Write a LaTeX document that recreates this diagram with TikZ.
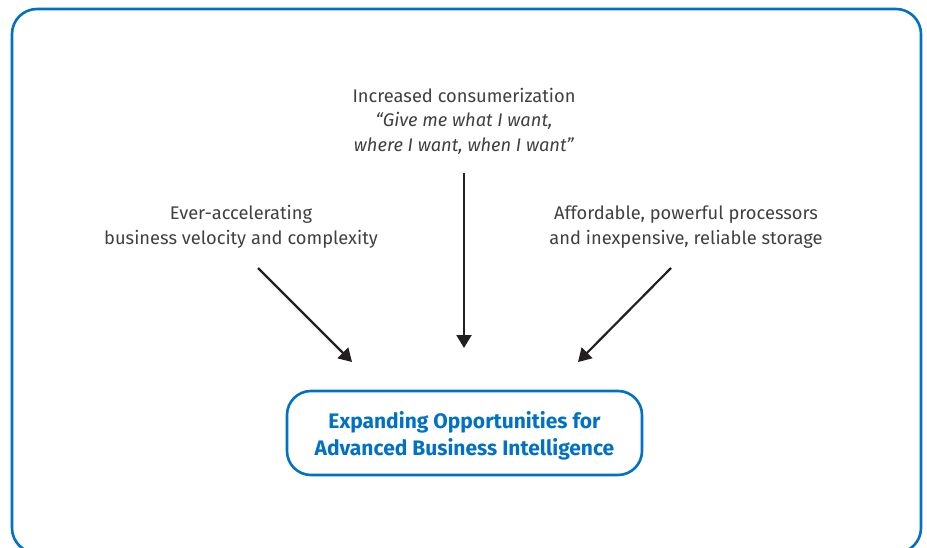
\documentclass[tikz,border=0pt]{standalone}
\usepackage{fontspec}
\setmainfont{Fira Sans}
\usetikzlibrary{arrows.meta}
\definecolor{iblue}{HTML}{0071C5}
\definecolor{igray}{HTML}{404040}
\definecolor{iarrow}{HTML}{231F20}
\tikzset{
  x=1pt, y=-1pt,
  frame/.style={draw=iblue, line width=2.6pt, rounded corners=25pt},
  goalbox/.style={draw=iblue, line width=2.6pt, rounded corners=24pt, minimum width=355pt, minimum height=84pt, align=center, text=iblue, font=\fontsize{21}{26.5}\selectfont\bfseries},
  driver/.style={align=center, text=igray, font=\fontsize{18.3}{24.5}\selectfont},
  push/.style={draw=iarrow, line width=2.2pt, -{Triangle[length=13pt,width=15pt]}}
}
\begin{document}
\begin{tikzpicture}
\useasboundingbox (0,0) rectangle (927,548);
\begin{scope}
\clip (0,0) rectangle (927,548);
\draw[frame] (12,9) rectangle (921,553);
\end{scope}
\node[goalbox] (goal) at (464.5,433) {};
\node[align=center, text=iblue, font=\fontsize{21}{26.5}\selectfont\bfseries] (goaltext) at (464.5,436) {Expanding Opportunities for\\Advanced Business Intelligence};
\node[driver] (top) at (464,121) {Increased consumerization\\\textit{“Give me what I want,}\\\textit{where I want, when I want”}};
\node[driver] (left) at (241,227) {Ever-accelerating\\business velocity and complexity};
\node[driver] (right) at (686,227) {Affordable, powerful processors\\and inexpensive, reliable storage};
\coordinate (ls) at (258,268);
\coordinate (le) at (352,362);
\coordinate (ms) at (464,173);
\coordinate (me) at (464,348);
\coordinate (rs) at (671,268);
\coordinate (re) at (578,362);
\draw[push] (ls) -- (le);
\draw[push] (ms) -- (me);
\draw[push] (rs) -- (re);
\end{tikzpicture}
\end{document}
